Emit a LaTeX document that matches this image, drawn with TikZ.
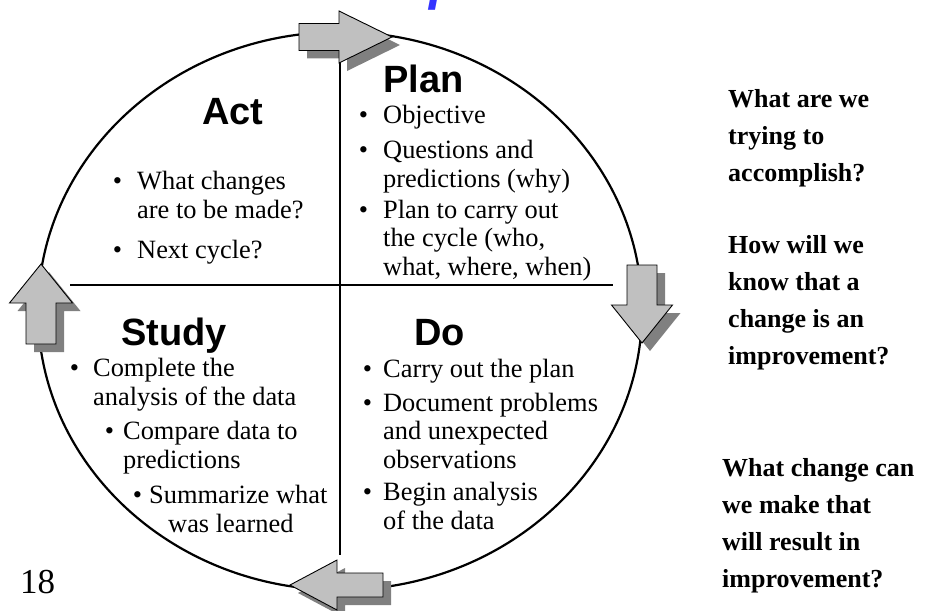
\documentclass[tikz,border=0pt]{standalone}
\usepackage{fontspec}
\setmainfont{Liberation Serif}
\newfontfamily\headfont{Liberation Sans}
\usepackage{xcolor}
\usepackage{tikz}
\usetikzlibrary{positioning}
\definecolor{titleblue}{RGB}{51,51,255}
\definecolor{arrowgray}{RGB}{192,192,192}
\definecolor{shadowgray}{RGB}{128,128,128}
\newcommand\bul[1]{\llap{\textbullet\hspace{#1pt}}}
\tikzset{
  phase/.style={font=\headfont\bfseries\fontsize{38}{40}\selectfont,
    anchor=base west, inner sep=0pt},
  pt/.style={font=\fontsize{26.4}{28.5}\selectfont, align=left,
    anchor=base west, inner sep=0pt},
  ask/.style={font=\bfseries\fontsize{26}{37}\selectfont, align=left,
    anchor=base west, inner sep=0pt},
  rim/.style={draw=black, line width=2.2pt},
  split/.style={draw=black, line width=1.2pt},
  arr/.style={draw=black, line width=0.9pt, fill=arrowgray},
  arrshade/.style={fill=shadowgray, shift={(8,8)}},
  pics/turn/.style n args={4}{code={
    \path[pic actions] (0,0) -- (-#1,#2) -- (-#1,#4) -- (-#1-#3,#4)
      -- (-#1-#3,-#4) -- (-#1,-#4) -- (-#1,-#2) -- cycle;
  }},
}

\begin{document}
\begin{tikzpicture}[x=1pt, y=-1pt]
  \useasboundingbox (0,0) rectangle (936,610);
  \clip (0,0) rectangle (936,610);

  \node[anchor=base west, inner sep=0pt, text=titleblue,
        font=\headfont\bfseries\itshape\fontsize{52}{54}\selectfont]
        (title) at (103,0) {The PDSA Improvement Model};

  \draw[rim] (340,311) ellipse [x radius=302, y radius=279];
  \draw[split] (340,32) -- (340,555);
  \draw[split] (70,285) -- (613,285);

  % tip x / tip y / angle / head length / head half / shaft length / shaft half
  \foreach \x/\y/\a/\hl/\hw/\sl/\sw in {392/37/0/53/26/40/13.5,
      642/343/-90/38/30.5/40/15, 290/585/180/47/25/46/12,
      41/264/90/39/31.5/41/15} {
    \pic[arrshade, rotate=\a] at (\x,\y) {turn={\hl}{\hw}{\sl}{\sw}};
    \pic[arr, rotate=\a] at (\x,\y) {turn={\hl}{\hw}{\sl}{\sw}};
  }

  % multi-line nodes sit on the baseline of their last line
  \node[phase] (act) at (202,124) {Act};
  \node[pt] (act1) at (137,218) {\bul{15}What changes\\are to be made?};
  \node[pt] (act2) at (137,258) {\bul{15}Next cycle?};

  \node[phase] (plan) at (383,92) {Plan};
  \node[pt] (plan1) at (383,123) {\bul{15}Objective};
  \node[pt] (plan2) at (383,187) {\bul{15}Questions and\\predictions (why)};
  \node[pt] (plan3) at (383,275)
        {\bul{15}Plan to carry out\\the cycle (who,\\what, where, when)};

  \node[phase] (study) at (121,345) {Study};
  \node[pt] (study1) at (93,405) {\bul{14}Complete the\\analysis of the data};
  \node[pt] (study2) at (123,468) {\bul{9}Compare data to\\predictions};
  \node[pt] (study3) at (149,532)
        {\bul{7}Summarize what\\\hspace*{19pt}was learned};

  \node[phase] (do) at (414,345) {Do};
  \node[pt] (do1) at (383,377) {\bul{11}Carry out the plan};
  \node[pt] (do2) at (383,468)
        {\bul{11}Document problems\\and unexpected\\observations};
  \node[pt] (do3) at (383,529) {\bul{11}Begin analysis\\of the data};

  \node[ask] (aim) at (728,181) {What are we\\trying to\\accomplish?};
  \node[ask] (measure) at (728,364)
        {How will we\\know that a\\change is an\\improvement?};
  \node[ask] (change) at (722,587)
        {What change can\\we make that\\will result in\\improvement?};

  \node[anchor=base west, inner sep=0pt, font=\fontsize{35}{38}\selectfont]
        (slideno) at (20,593) {18};
\end{tikzpicture}
\end{document}
